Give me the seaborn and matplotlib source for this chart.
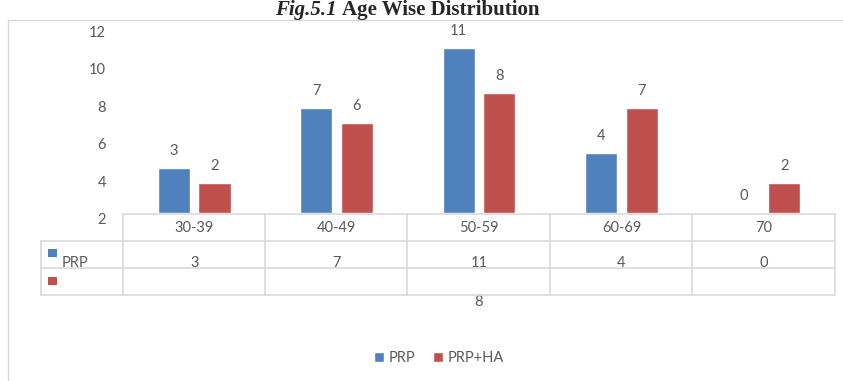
import matplotlib
matplotlib.use("Agg")
import matplotlib.pyplot as plt
import matplotlib.transforms as mtransforms
from matplotlib.patches import Rectangle
from matplotlib.lines import Line2D
import pandas as pd
import seaborn as sns

# --- data ---
age_groups = ['30-39', '40-49', '50-59', '60-69', '70']
prp = [3, 7, 11, 4, 0]
prp_ha = [2, 6, 8, 7, 2]
series_names = ['PRP', 'PRP+HA']
colors = ['#4F81BD', '#C0504D']
# y tick labels as printed on the (misaligned) axis, with their pixel rows
ytick_labels = ['12', '10', '8', '6', '4', '2']
ytick_rows_px = [33, 70, 108, 145, 183, 220]

df = pd.DataFrame({
    'Age': age_groups * 2,
    'Count': prp + prp_ha,
    'Group': [series_names[0]] * len(age_groups) + [series_names[1]] * len(age_groups),
})

W, H = 843, 381
gray = '#595959'
line_gray = '#D9D9D9'
font = 'Lato'

sns.set_theme(style='white')
plt.rcParams['font.family'] = [font, 'DejaVu Sans']

fig = plt.figure(figsize=(W / 100, H / 100), dpi=100)

def fx(x):
    return x / W

def fy(y):
    return 1 - y / H

# plot area: x from the table columns, 15 px per unit vertically
ax_left, ax_right, ax_bottom, ax_top = 123, 835, 213, 28
ax = fig.add_axes([fx(ax_left), fy(ax_bottom), fx(ax_right - ax_left), (ax_bottom - ax_top) / H])

sns.barplot(data=df, x='Age', y='Count', hue='Group', palette=colors,
            width=0.57, gap=0.21, ax=ax, legend=True, saturation=1)
handles, labels = ax.get_legend_handles_labels()
ax.get_legend().remove()

ax.set_ylim(0, (ax_bottom - ax_top) / 15)
ax.set_xlim(-0.5, len(age_groups) - 0.5)
for c in ax.containers:
    ax.bar_label(c, padding=7, color=gray, fontsize=10.5)

ax.set_xlabel('')
ax.set_ylabel('')
ax.set_yticks([])
ax.tick_params(axis='x', length=0, pad=6, labelsize=10.5, labelcolor=gray)
for s in ax.spines.values():
    s.set_visible(False)

# printed y-axis labels
for lab, ypx in zip(ytick_labels, ytick_rows_px):
    fig.text(fx(106), fy(ypx), lab, ha='right', va='center', color=gray, fontsize=10.5)

# outer chart border
fig.add_artist(Rectangle((fx(8), fy(381 + 5)), fx(900), (381 + 5 - 20) / H,
                         transform=fig.transFigure, fill=False, edgecolor=line_gray, lw=1))

# data table grid
col_x = [123, 265, 407, 550, 692, 835]
def hline(x0, x1, y):
    fig.add_artist(Line2D([fx(x0), fx(x1)], [fy(y), fy(y)], color=line_gray, lw=1.2))
def vline(x, y0, y1):
    fig.add_artist(Line2D([fx(x), fx(x)], [fy(y0), fy(y1)], color=line_gray, lw=1.2))

hline(123, 835, 214)
hline(41, 835, 241)
hline(41, 835, 268)
hline(41, 835, 295)
vline(41, 241, 295)
for x in col_x:
    vline(x, 214, 295)

# row headers
fig.add_artist(Rectangle((fx(48), fy(257)), fx(9), 8 / H, transform=fig.transFigure,
                         facecolor=colors[0], edgecolor='none'))
fig.text(fx(62), fy(263), series_names[0], ha='left', va='center', color=gray, fontsize=10.5)
fig.add_artist(Rectangle((fx(48), fy(285)), fx(9), 8 / H, transform=fig.transFigure,
                         facecolor=colors[1], edgecolor='none'))

# table values (PRP row), plus the stray PRP+HA value below the table
blend = mtransforms.blended_transform_factory(ax.transData, fig.transFigure)
for i, v in enumerate(prp):
    ax.text(i, fy(263), str(v), transform=blend, ha='center', va='center',
            color=gray, fontsize=10.5, clip_on=False)
ax.text(2, fy(302), str(prp_ha[2]), transform=blend, ha='center', va='center',
        color=gray, fontsize=10.5, clip_on=False)

# legend
fig.legend(handles, labels, loc='center', bbox_to_anchor=(fx(439), fy(358)), ncol=2,
           frameon=False, handlelength=0.7, handleheight=0.7, handletextpad=0.3,
           columnspacing=1.2, fontsize=10.5, labelcolor=gray)

# title (kept fully inside the figure)
fig.text(fx(337), fy(15), 'Fig.5.1', ha='right', va='baseline', fontsize=15,
         fontweight='bold', fontstyle='italic', family='Liberation Serif')
fig.text(fx(342), fy(15), 'Age Wise Distribution', ha='left', va='baseline', fontsize=15,
         fontweight='bold', family='Liberation Serif')

fig.savefig('out.png', dpi=100)
plt.close(fig)
